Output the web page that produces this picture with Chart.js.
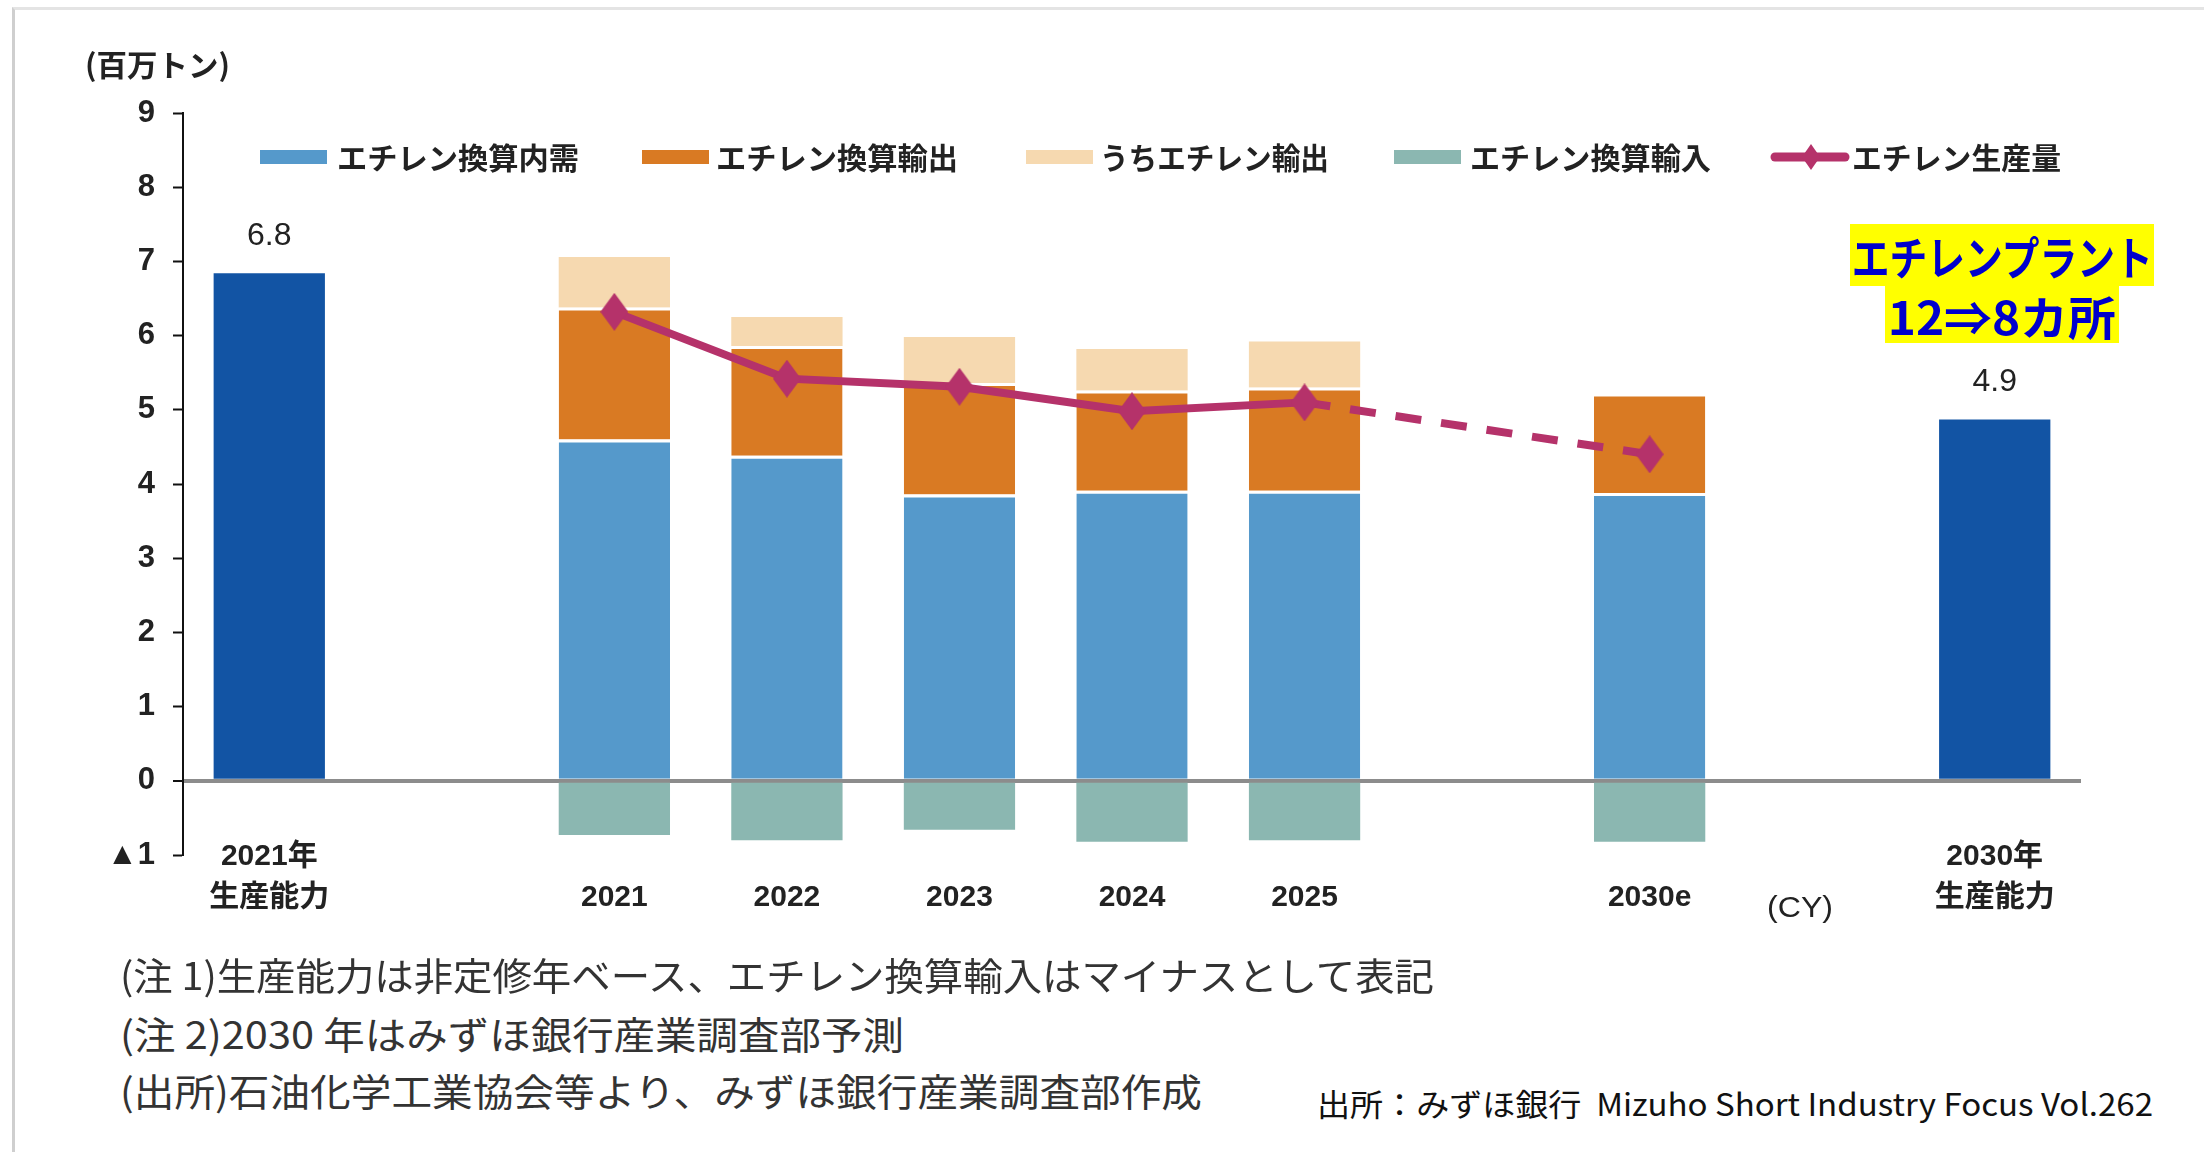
<!DOCTYPE html>
<html lang="ja">
<head>
<meta charset="utf-8">
<title>エチレン需給</title>
<script src="https://cdn.jsdelivr.net/npm/chart.js@4.4.1/dist/chart.umd.min.js"></script>
<style>
  html, body { margin: 0; padding: 0; background: #fff; }
  body { width: 2204px; height: 1152px; position: relative; overflow: hidden;
         font-family: 'Noto Sans CJK JP', 'Liberation Sans', sans-serif; color: #222; }
  #frame { position: absolute; left: 12px; top: 7px; width: 2300px; height: 1300px;
           border-top: 3px solid #e4e4e4; border-left: 3px solid #cfcfcf; }
  #chart { position: absolute; left: 0; top: 0; }
  .t { position: absolute; white-space: nowrap; transform-origin: left center; }
  .sw { position: absolute; top: 150px; width: 67px; height: 14px; }
  .lg { top: 136px; height: 40px; line-height: 40px; font-size: 30px; font-weight: bold; color: #222; }
  .box { position: absolute; background: #ffff00; display: flex; align-items: center; justify-content: center; }
  .box span { display: inline-block; flex: none; font-size: 46px; font-weight: bold; color: #0000cc;
              transform-origin: center center; white-space: nowrap; }
  .note { left: 120px; height: 50px; line-height: 50px; font-size: 38px; color: #333; }
</style>
</head>
<body>
<div id="frame"></div>
<canvas id="chart" width="2204" height="950"></canvas>

<div class="t" data-w="145" style="left:85px; top:44px; line-height:38px; font-size:30px; font-weight:bold;">(百万トン)</div>

<!-- 凡例 -->
<div class="sw" style="left:260px; background:#5599cb;"></div>
<div class="t lg" data-w="242" style="left:337px;">エチレン換算内需</div>
<div class="sw" style="left:642px; background:#d97a23;"></div>
<div class="t lg" data-w="242" style="left:716px;">エチレン換算輸出</div>
<div class="sw" style="left:1026px; background:#f6d9b0;"></div>
<div class="t lg" data-w="229" style="left:1100px;">うちエチレン輸出</div>
<div class="sw" style="left:1394px; background:#8bb7b1;"></div>
<div class="t lg" data-w="241" style="left:1470px;">エチレン換算輸入</div>
<svg style="position:absolute; left:1770px; top:143px;" width="80" height="28">
  <line x1="5" y1="14" x2="75" y2="14" stroke="#b5326a" stroke-width="9" stroke-linecap="round"/>
  <polygon points="41,1 50,14 41,27 32,14" fill="#b5326a"/>
</svg>
<div class="t lg" data-w="209" style="left:1852px;">エチレン生産量</div>

<!-- 注記 -->
<div class="box" style="left:1850px; top:224px; width:304px; height:62px;"><span data-w="301">エチレンプラント</span></div>
<div class="box" style="left:1885px; top:286px; width:234px; height:57px;"><span data-w="228">12⇒8カ所</span></div>

<div class="t" data-w="66" style="left:1767px; top:887px; line-height:40px; font-size:30px; font-family:'Liberation Sans', sans-serif; color:#222;">(CY)</div>

<div class="t note" data-w="1314" style="top:949px;">(注 1)生産能力は非定修年ベース、エチレン換算輸入はマイナスとして表記</div>
<div class="t note" data-w="784" style="top:1008px;">(注 2)2030 年はみずほ銀行産業調査部予測</div>
<div class="t note" data-w="1082" style="top:1065px;">(出所)石油化学工業協会等より、みずほ銀行産業調査部作成</div>

<div class="t" data-w="836" style="left:1317px; top:1083px; line-height:40px; font-size:31px; color:#111;">出所：みずほ銀行&nbsp;&nbsp;Mizuho Short Industry Focus Vol.262</div>

<script>
// --- データ（百万トン） ---
const categories = [['2021年', '生産能力'], '', ['', '2021'], ['', '2022'], ['', '2023'],
                    ['', '2024'], ['', '2025'], '', ['', '2030e'], '', ['2030年', '生産能力']];
const capacity        = [6.84, null, null, null, null, null, null, null, null, null, 4.87];
const domestic        = [null, null, 4.60, 4.38, 3.86, 3.91, 3.91, null, 3.88, null, null];
const exportsEq       = [null, null, 1.78, 1.48, 1.50, 1.35, 1.39, null, 1.34, null, null];
const ethyleneExports = [null, null, 0.68, 0.39, 0.62, 0.56, 0.62, null, null, null, null];
const importsEq       = [null, null, -0.73, -0.80, -0.66, -0.82, -0.80, null, -0.82, null, null];
const production      = [null, null, 6.32, 5.42, 5.31, 4.98, 5.10, null, 4.40, null, null];
const yMin = -1, yMax = 9, yStep = 1;
const lastActual = 6; // 2025 以降は予測（破線）

const FONT = "'Liberation Sans', 'Noto Sans CJK JP', sans-serif";
const LINE_COLOR = '#b5326a';

// 縦長のひし形マーカー
function diamond(w, h, color) {
    const c = document.createElement('canvas');
    c.width = w; c.height = h;
    const g = c.getContext('2d');
    g.fillStyle = color;
    g.beginPath();
    g.moveTo(w / 2, 0); g.lineTo(w, h / 2); g.lineTo(w / 2, h); g.lineTo(0, h / 2);
    g.closePath();
    g.fill();
    return c;
}

// 生産能力の棒の上に数値を表示
const capacityLabels = {
    id: 'capacityLabels',
    afterDatasetsDraw(chart) {
        const ctx = chart.ctx;
        const meta = chart.getDatasetMeta(1);
        ctx.save();
        ctx.font = '32px ' + FONT;
        ctx.fillStyle = '#222';
        ctx.textAlign = 'center';
        ctx.textBaseline = 'middle';
        meta.data.forEach((bar, i) => {
            if (capacity[i] == null) return;
            ctx.fillText(capacity[i].toFixed(1), bar.x, bar.y - 37);
        });
        ctx.restore();
    }
};

const topBorder = { top: 3, right: 0, bottom: 0, left: 0 };

new Chart(document.getElementById('chart'), {
    type: 'bar',
    data: {
        labels: categories,
        datasets: [
            {
                type: 'line',
                label: 'エチレン生産量',
                data: production,
                stack: 'line',
                order: 0,
                borderColor: LINE_COLOR,
                backgroundColor: LINE_COLOR,
                borderWidth: 8,
                tension: 0,
                spanGaps: true,
                pointStyle: diamond(28, 38, LINE_COLOR),
                pointRadius: 14,
                pointBorderWidth: 0,
                segment: {
                    borderDash: ctx => ctx.p0DataIndex >= lastActual ? [26, 20] : undefined
                }
            },
            { label: '生産能力', data: capacity, stack: 'bar', order: 1, backgroundColor: '#1254a4' },
            { label: 'エチレン換算内需', data: domestic, stack: 'bar', order: 1,
              backgroundColor: '#5599cb', borderColor: '#fff', borderWidth: topBorder },
            { label: 'エチレン換算輸出', data: exportsEq, stack: 'bar', order: 1,
              backgroundColor: '#d97a23', borderColor: '#fff', borderWidth: topBorder },
            { label: 'うちエチレン輸出', data: ethyleneExports, stack: 'bar', order: 1, backgroundColor: '#f6d9b0' },
            { label: 'エチレン換算輸入', data: importsEq, stack: 'bar', order: 1, backgroundColor: '#8bb7b1' }
        ]
    },
    options: {
        responsive: false,
        animation: false,
        devicePixelRatio: 1,
        layout: { padding: { top: 113, right: 123, bottom: 0, left: 0 } },
        datasets: { bar: { barPercentage: 0.645, categoryPercentage: 1 } },
        plugins: { legend: { display: false }, tooltip: { enabled: false } },
        scales: {
            x: {
                stacked: true,
                grid: { display: false, drawTicks: false },
                border: { display: false },
                ticks: {
                    autoSkip: false,
                    maxRotation: 0,
                    padding: -18.5,
                    color: '#222',
                    font: { family: FONT, size: 30, lineHeight: 41 / 30, weight: 'bold' }
                },
                afterFit: s => {
                    s.height = 95;
                    // ラベルが軸の上端より少し上にはみ出すのでクリップしない
                    s._computeLabelArea = () => undefined;
                }
            },
            y: {
                stacked: true,
                min: yMin,
                max: yMax,
                ticks: {
                    stepSize: yStep,
                    padding: 18,
                    color: '#222',
                    font: { family: FONT, size: 31, weight: 'bold' },
                    callback: v => v < 0 ? '▲' + Math.abs(v) : v
                },
                grid: {
                    color: c => c.tick && c.tick.value === 0 ? '#8c8c8c' : 'rgba(0,0,0,0)',
                    lineWidth: c => c.tick && c.tick.value === 0 ? 4 : 1,
                    tickColor: '#111',
                    tickWidth: 2,
                    tickLength: 10
                },
                border: { color: '#111', width: 2 },
                afterFit: s => { s.width = 183; }
            }
        }
    },
    plugins: [capacityLabels]
});

// テキスト幅を元図に合わせる
document.querySelectorAll('[data-w]').forEach(el => {
    const w = el.getBoundingClientRect().width;
    if (w > 0) el.style.transform = 'scaleX(' + (el.dataset.w / w) + ')';
});
</script>
</body>
</html>
